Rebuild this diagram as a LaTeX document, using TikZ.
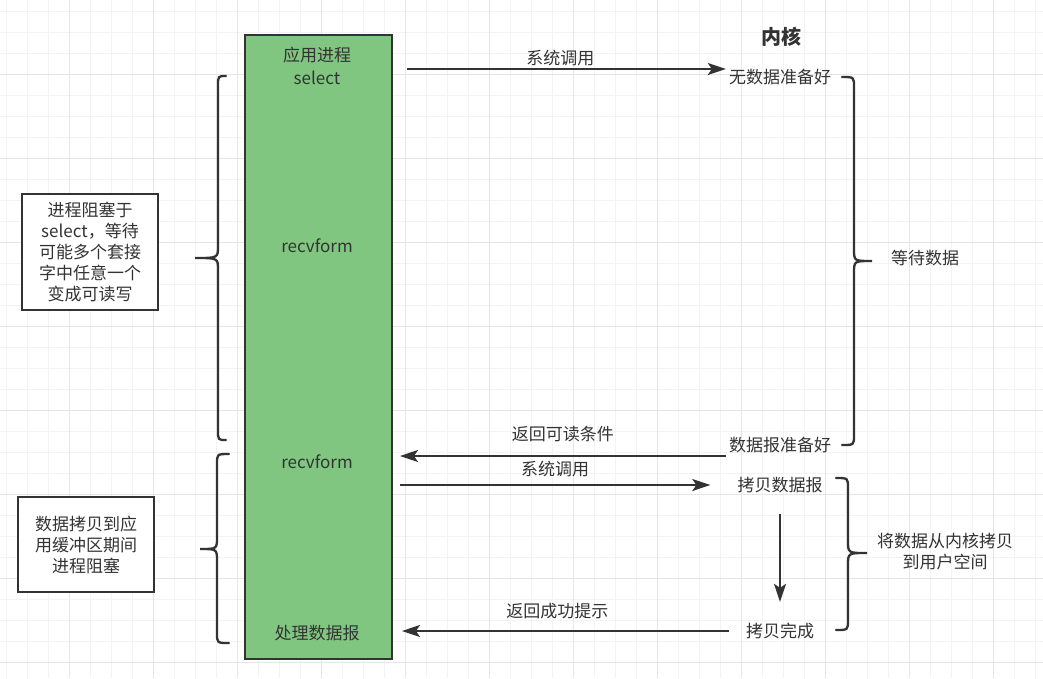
\documentclass[tikz,border=0pt]{standalone}
\usepackage{fontspec}
\setmainfont{Noto Sans CJK SC}
\usetikzlibrary{arrows.meta, positioning, calc}
\definecolor{dtext}{HTML}{333333}
\definecolor{dline}{HTML}{333333}
\definecolor{pgreen}{HTML}{80C680}
\definecolor{gminor}{HTML}{F3F3F3}
\definecolor{gmajor}{HTML}{E6E6E6}
\tikzset{
  txt/.style={text=dtext, font=\fontsize{17}{21}\selectfont, inner sep=3pt, align=center},
  lbl/.style={text=dtext, font=\fontsize{17}{21}\selectfont, inner sep=0pt},
  notebox/.style={draw=dline, line width=1.5pt, fill=white, text=dtext,
                  font=\fontsize{17}{21}\selectfont, align=center, inner sep=0pt,
                  minimum width=136pt},
  procbox/.style={draw=dline, line width=1.5pt, fill=pgreen},
  arr/.style={-{Stealth[length=18pt,width=12pt,inset=4pt]}, line width=2pt, dline},
  brace/.style={line width=2.3pt, dline, line cap=round},
  gridminor/.style={gminor, line width=1pt},
  gridmajor/.style={gmajor, line width=1pt},
}

\begin{document}
\begin{tikzpicture}[x=1pt, y=-1pt]
  \useasboundingbox[fill=white] (0,0) rectangle (1043,678);

  % background grid
  \foreach \i in {0,...,49} {\draw[gridminor] ({6+21*\i},0) -- ({6+21*\i},678);}
  \foreach \j in {0,...,32} {\draw[gridminor] (0,{11+21*\j}) -- (1043,{11+21*\j});}
  \foreach \i in {0,...,11} {\draw[gridmajor] ({69+84*\i},0) -- ({69+84*\i},678);}
  \foreach \j in {0,...,7} {\draw[gridmajor] (0,{74+84*\j}) -- (1043,{74+84*\j});}

  % application process
  \node[procbox, minimum width=147pt, minimum height=624pt] (proc) at (318.5,347) {};
  \node[txt] (app) at (317,55) {应用进程};
  \node[txt] (sel) at (317,78) {select};
  \node[txt] (recv1) at (317,246) {recvform};
  \node[txt] (recv2) at (317,462) {recvform};
  \node[txt] (handle) at (317,633) {处理数据报};

  % kernel side
  \node[txt, font=\fontsize{20}{24}\selectfont\bfseries] (kernel) at (781,37) {内核};
  \node[txt] (nodata) at (780,77) {无数据准备好};
  \node[txt] (ready) at (780,445) {数据报准备好};
  \node[txt] (copy) at (780,485) {拷贝数据报};
  \node[txt] (done) at (780,631) {拷贝完成};

  \node[txt] (wait) at (925,258) {等待数据};
  \node[txt] (tocopy) at (945,552) {将数据从内核拷贝\\到用户空间};

  % notes
  \node[notebox, minimum height=116pt] (note1) at (90,252)
    {进程阻塞于\\select，等待\\可能多个套接\\字中任意一个\\变成可读写};
  \node[notebox, minimum height=95pt] (note2) at (86,544.5)
    {数据拷贝到应\\用缓冲区期间\\进程阻塞};

  % calls and returns
  \coordinate (a1) at (407,69);
  \coordinate (a2) at (400,456);
  \coordinate (a3) at (400,485);
  \coordinate (a5) at (402,628);

  \draw[arr] (a1) -- (a1 -| nodata.west)
    node[lbl, midway, above=2.5pt, xshift=-6pt] {系统调用};
  \draw[arr] (ready.west |- a2) -- (a2)
    node[lbl, midway, above=13.5pt] {返回可读条件};
  \draw[arr] (a3) -- ([xshift=-24pt]copy.west)
    node[lbl, midway, above=7.5pt] {系统调用};
  \draw[arr] ([yshift=-18pt]copy.south) -- ([yshift=18pt]done.north);
  \draw[arr] ([xshift=-14pt]done.west) -- (a5 |- done.west)
    node[lbl, midway, above=11.5pt, xshift=-8pt] {返回成功提示};

  % braces
  \draw[brace] (226,76) .. controls (218,76) .. (218,86) -- (218,246)
    .. controls (218,258) .. (195,258) .. controls (218,258) .. (218,270)
    -- (218,430) .. controls (218,440) .. (226,440);
  \draw[brace] (229,454) .. controls (217,454) .. (217,464) -- (217,537)
    .. controls (217,549) .. (200,549) .. controls (217,549) .. (217,561)
    -- (217,633) .. controls (217,643) .. (229,643);
  \draw[brace] (842,77) .. controls (854,77) .. (854,87) -- (854,249)
    .. controls (854,261) .. (872,261) .. controls (854,261) .. (854,273)
    -- (854,435) .. controls (854,445) .. (842,445);
  \draw[brace] (836,478) .. controls (848,478) .. (848,488) -- (848,541)
    .. controls (848,553) .. (867,553) .. controls (848,553) .. (848,565)
    -- (848,620) .. controls (848,630) .. (836,630);
\end{tikzpicture}
\end{document}
